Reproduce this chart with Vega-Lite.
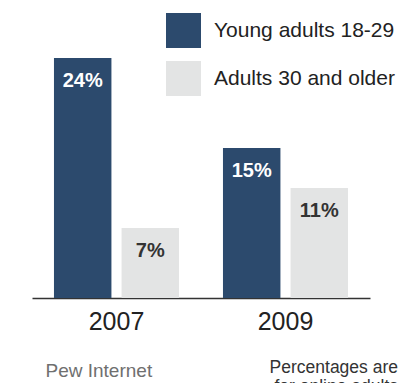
{
  "$schema": "https://vega.github.io/schema/vega-lite/v6.json",
  "autosize": {"type": "none"},
  "padding": {"left": 32, "top": 58, "right": 35, "bottom": 85},
  "width": 338,
  "height": 240,
  "background": "white",
  "data": {
    "values": [
      {"year": "2007", "group": "Young adults 18-29", "value": 24, "label": "24%"},
      {"year": "2007", "group": "Adults 30 and older", "value": 7, "label": "7%"},
      {"year": "2009", "group": "Young adults 18-29", "value": 15, "label": "15%"},
      {"year": "2009", "group": "Adults 30 and older", "value": 11, "label": "11%"}
    ]
  },
  "title": {
    "text": ["Percentages are", "for online adults"],
    "orient": "bottom",
    "anchor": "end",
    "font": "Liberation Sans",
    "fontSize": 17.5,
    "fontWeight": "normal",
    "color": "#333",
    "lineHeight": 19,
    "offset": -21,
    "dx": 3
  },
  "config": {
    "view": {"stroke": null},
    "font": "Liberation Sans"
  },
  "encoding": {
    "x": {
      "field": "year",
      "type": "nominal",
      "scale": {"paddingInner": 0.26, "paddingOuter": 0.13},
      "axis": {
        "title": "Pew Internet",
        "titleFont": "Liberation Sans",
        "titleFontSize": 19,
        "titleFontWeight": "normal",
        "titleColor": "#6f6f6f",
        "titleAnchor": "start",
        "titleAlign": "left",
        "titleBaseline": "middle",
        "titleX": 13,
        "titleY": 72,
        "labelAngle": 0,
        "labelFontSize": 25,
        "labelColor": "#222",
        "labelPadding": 11,
        "ticks": false,
        "domainColor": "#333",
        "domainWidth": 1.5
      }
    },
    "xOffset": {
      "field": "group",
      "type": "nominal",
      "sort": ["Young adults 18-29", "Adults 30 and older"],
      "scale": {"paddingInner": 0.15}
    },
    "y": {
      "field": "value",
      "type": "quantitative",
      "scale": {"domain": [0, 24]},
      "axis": null
    }
  },
  "layer": [
    {
      "mark": {"type": "bar"},
      "encoding": {
        "color": {
          "field": "group",
          "type": "nominal",
          "sort": ["Young adults 18-29", "Adults 30 and older"],
          "scale": {"range": ["#2c4a6d", "#e3e4e4"]},
          "legend": {
            "title": null,
            "orient": "none",
            "legendX": 134,
            "legendY": -45,
            "symbolType": "square",
            "symbolSize": 1225,
            "symbolStrokeWidth": 0,
            "labelFontSize": 21,
            "labelColor": "#222",
            "labelOffset": 13,
            "labelLimit": 300,
            "rowPadding": 13,
            "padding": 0
          }
        }
      }
    },
    {
      "mark": {"type": "text", "dy": 23, "fontSize": 20, "fontWeight": "bold"},
      "encoding": {
        "text": {"field": "label"},
        "color": {
          "condition": {"test": "datum.group === 'Young adults 18-29'", "value": "white"},
          "value": "#333"
        }
      }
    }
  ]
}
